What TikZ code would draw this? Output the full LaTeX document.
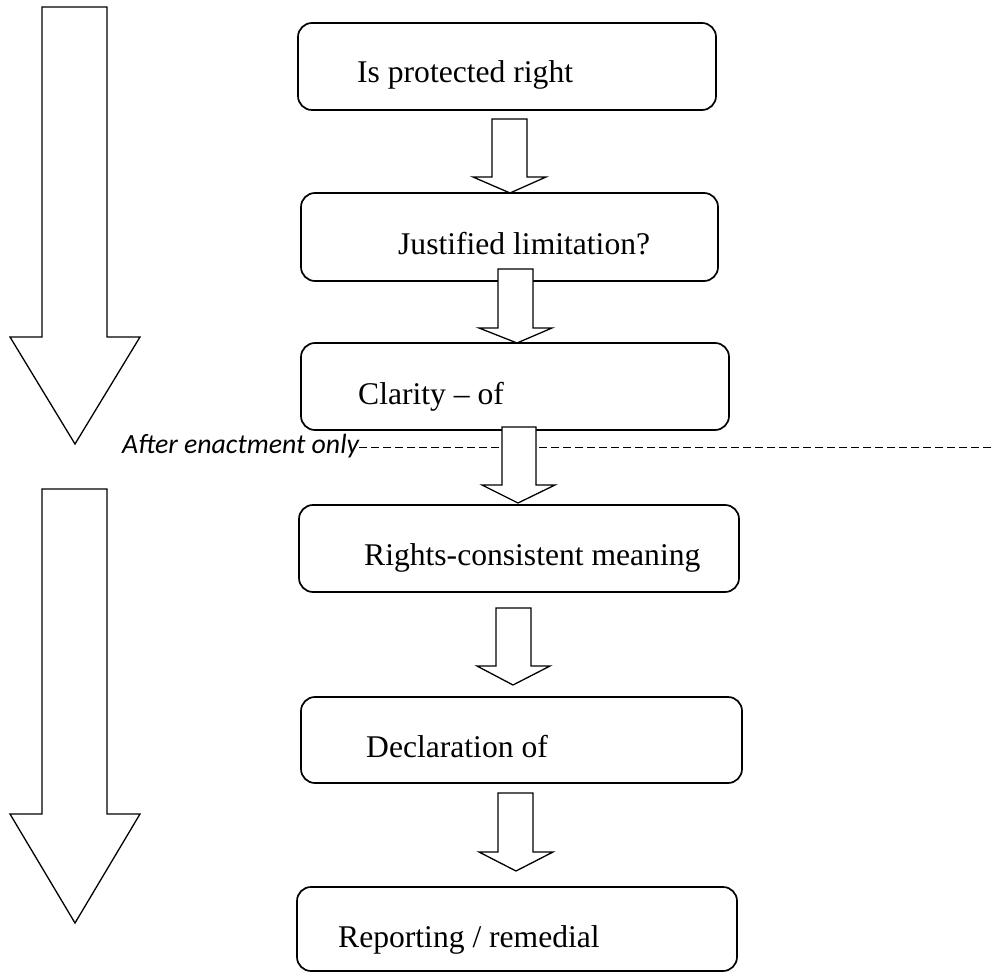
\documentclass[tikz,border=0pt]{standalone}
\usepackage{fontspec}
\setmainfont{Liberation Serif}
\newfontfamily\calib{Carlito}
\begin{document}
\begin{tikzpicture}[x=1pt,y=-1pt,
  box/.style={draw=black, line width=1.7pt, rounded corners=14pt, inner sep=0pt},
  lbl/.style={anchor=base west, inner sep=0pt, font=\fontsize{31.6}{38}\selectfont},
  blk/.style={draw=black, fill=white, line width=1.3pt, line join=miter},
  dashline/.style={draw=black, line width=1pt, dash pattern=on 8pt off 4pt}]
\useasboundingbox (0,0) rectangle (995,973);
\newcommand\blkarrow[8]{\draw[blk] (#1,#3) -- (#1,#4) -- (#5,#4) -- (#7,#8) -- (#6,#4) -- (#2,#4) -- (#2,#3) -- cycle;}
% boxes
\node[box, minimum width=418pt, minimum height=87pt] (b1) at (507,66.5) {};
\node[box, minimum width=417pt, minimum height=88pt] (b2) at (509.5,237) {};
\node[box, minimum width=428pt, minimum height=87pt] (b3) at (515,386.5) {};
\node[box, minimum width=440pt, minimum height=87pt] (b4) at (519,548.5) {};
\node[box, minimum width=441pt, minimum height=86pt] (b5) at (521.5,740) {};
\node[box, minimum width=440pt, minimum height=84pt] (b6) at (517,929) {};
% texts
\node[lbl] (t1) at (357,83) {Is protected right};
\node[lbl] (t2) at (398,255) {Justified limitation?};
\node[lbl] (t3) at (358,404) {Clarity -- of};
\node[lbl] (t4) at (364,565) {Rights-consistent meaning};
\node[lbl] (t5) at (366,757) {Declaration of};
\node[lbl] (t6) at (338,947) {Reporting / remedial};
% dashed divider
\node[anchor=base west, inner sep=0pt, font=\calib\itshape\fontsize{27.8}{33}\selectfont] (after) at (122,453) {After enactment only};
\coordinate (dend) at (995,447);
\draw[dashline] (after.east |- dend) -- (dend);
% big left arrows
\blkarrow{42}{107}{7}{337}{10}{140}{75}{444}
\blkarrow{42}{107}{489}{814}{10}{140}{75}{923}
% small block arrows between boxes
\blkarrow{492}{527}{119}{177}{473}{546}{510}{193}
\blkarrow{498}{533}{269}{328}{479}{552}{517}{343}
\blkarrow{502}{536}{427}{485}{482}{555}{518}{503}
\blkarrow{496}{531}{608}{666}{477}{550}{513}{685}
\blkarrow{498}{533}{793}{852}{479}{553}{516}{871}
\end{tikzpicture}
\end{document}
